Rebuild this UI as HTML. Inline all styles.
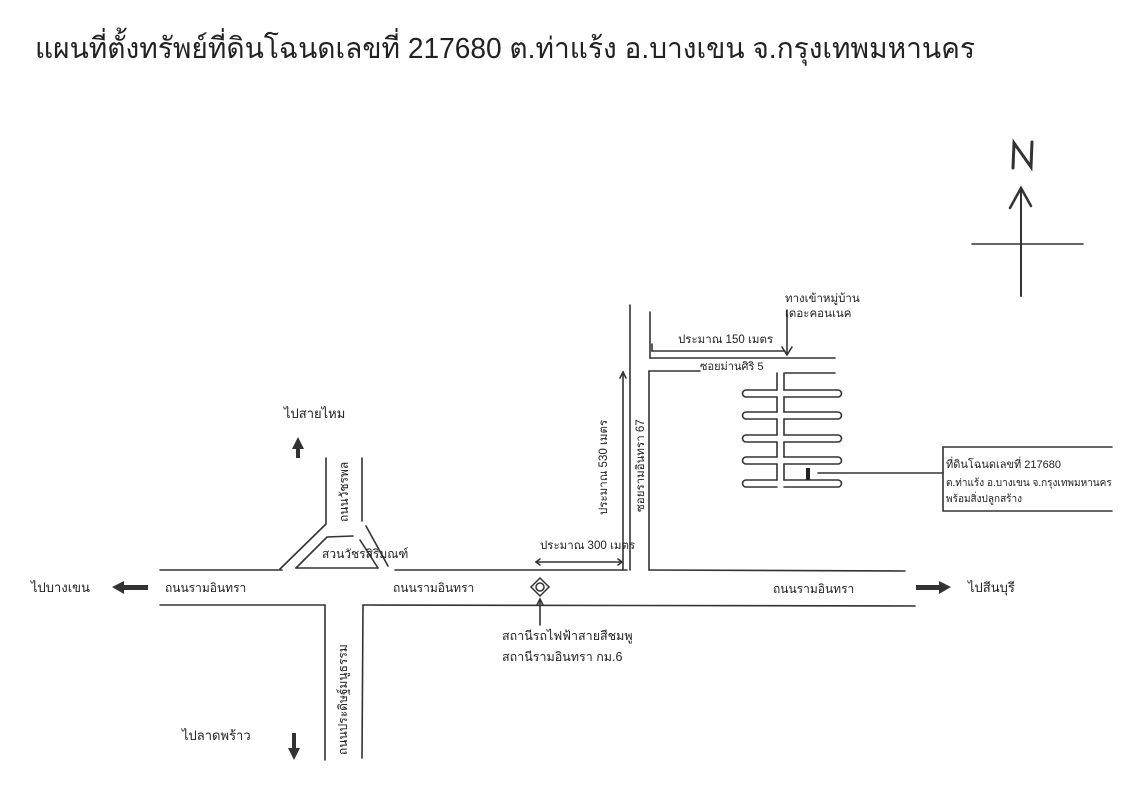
<!DOCTYPE html>
<html><head><meta charset="utf-8">
<style>
html,body{margin:0;padding:0;background:#fff;}
svg{display:block;}
text{font-family:"Liberation Sans","Noto Sans CJK SC","WenQuanYi Zen Hei",sans-serif;fill:#222;}
</style></head>
<body>
<svg width="1132" height="800" viewBox="0 0 1132 800" xmlns="http://www.w3.org/2000/svg">
<rect width="1132" height="800" fill="#fff"/>
<g stroke="#333" stroke-width="1.6" fill="none" stroke-linecap="round">
<line x1="160" y1="570" x2="282" y2="570"/>
<line x1="395" y1="570" x2="627" y2="570"/>
<line x1="649" y1="570" x2="905" y2="571"/>
<line x1="160" y1="605" x2="325" y2="605"/>
<line x1="363" y1="605" x2="915" y2="606"/>
<line x1="325" y1="605" x2="325" y2="760"/>
<line x1="363" y1="605" x2="362" y2="758"/>
<polyline points="326,458 326,524 280,569"/>
<line x1="362" y1="458" x2="362" y2="521"/>
<line x1="366" y1="526" x2="388" y2="566"/>
<polyline points="296,568 327,537 353,536"/>
<line x1="360" y1="540" x2="378" y2="568"/>
<line x1="296" y1="568" x2="378" y2="568"/>
<line x1="630" y1="305" x2="630" y2="570"/>
<line x1="649" y1="371" x2="649" y2="570"/>
<line x1="650" y1="312" x2="650" y2="358"/>
<line x1="650" y1="358" x2="835" y2="358"/>
<line x1="649" y1="371" x2="700" y2="371"/>
<line x1="785" y1="373" x2="835" y2="373"/>
<line x1="777" y1="373" x2="777" y2="390"/>
<line x1="777" y1="397" x2="777" y2="412"/>
<line x1="777" y1="419" x2="777" y2="435"/>
<line x1="777" y1="442" x2="777" y2="457"/>
<line x1="777" y1="464" x2="777" y2="480"/>
<line x1="784" y1="373" x2="784" y2="390"/>
<line x1="784" y1="397" x2="784" y2="412"/>
<line x1="784" y1="419" x2="784" y2="435"/>
<line x1="784" y1="442" x2="784" y2="457"/>
<line x1="784" y1="464" x2="784" y2="480"/>
<path d="M777 390 H746 a3.5 3.5 0 0 0 0 7 H777"/>
<path d="M777 412 H746 a3.5 3.5 0 0 0 0 7 H777"/>
<path d="M777 435 H746 a3.5 3.5 0 0 0 0 7 H777"/>
<path d="M777 457 H746 a3.5 3.5 0 0 0 0 7 H777"/>
<path d="M777 480 H746 a3.5 3.5 0 0 0 0 7 H777"/>
<path d="M784 390 H838 a3.5 3.5 0 0 1 0 7 H784"/>
<path d="M784 412 H838 a3.5 3.5 0 0 1 0 7 H784"/>
<path d="M784 435 H838 a3.5 3.5 0 0 1 0 7 H784"/>
<path d="M784 457 H838 a3.5 3.5 0 0 1 0 7 H784"/>
<path d="M784 480 H838 a3.5 3.5 0 0 1 0 7 H784"/>
<line x1="818" y1="473" x2="943" y2="473"/>
<polyline points="1112,447 943,447 943,511 1112,511"/>
<line x1="623" y1="372" x2="623" y2="570"/>
<polyline points="620,378 623,372 626,378"/>
<line x1="536" y1="562" x2="622" y2="562"/>
<polyline points="540,559 536,562 540,565"/>
<polyline points="618,559 622,562 618,565"/>
<line x1="652" y1="351" x2="785" y2="351"/>
<line x1="652" y1="351" x2="652" y2="344"/>
<line x1="787" y1="310" x2="787" y2="354"/>
<polyline points="782,347 787,355 792,347"/>
<line x1="540" y1="600" x2="540" y2="625"/>
<polyline points="537,605 540,599 543,605"/>
<line x1="1021" y1="188" x2="1021" y2="296" stroke-width="2"/>
<polyline points="1010,208 1021,188 1031,206" stroke-width="2.5"/>
<line x1="972" y1="244" x2="1083" y2="244"/>
<polyline points="1013,168 1014,143 1031,167 1032,142" stroke-width="3"/>
</g>
<g stroke="#333" stroke-width="1.5" fill="none">
<path d="M531 587 L540 578 L549 587 L540 596 Z"/>
<circle cx="540" cy="587" r="4"/>
</g>
<rect x="806" y="468" width="4" height="12" fill="#222"/>
<g fill="#333">
<polygon points="112,587 124,581 124,585 148,585 148,590 124,590 124,594"/>
<polygon points="951,587 939,581 939,585 916,585 916,590 939,590 939,594"/>
<polygon points="298,437 292,449 296,449 296,458 300,458 300,449 304,449"/>
<polygon points="294,760 288,748 292,748 292,733 296,733 296,748 300,748"/>
</g>
<text x="35" y="58" font-size="29" textLength="940" lengthAdjust="spacingAndGlyphs" font-weight="300">แผนที่ตั้งทรัพย์ที่ดินโฉนดเลขที่ 217680 ต.ท่าแร้ง อ.บางเขน จ.กรุงเทพมหานคร</text>
<g font-size="13">
<text x="31" y="592">ไปบางเขน</text>
<text x="165" y="592" font-size="12">ถนนรามอินทรา</text>
<text x="393" y="592" font-size="12">ถนนรามอินทรา</text>
<text x="773" y="593" font-size="12">ถนนรามอินทรา</text>
<text x="968" y="592">ไปสีนบุรี</text>
<text x="284" y="418">ไปสายไหม</text>
<text x="182" y="740">ไปลาดพร้าว</text>
<text x="322" y="558" font-size="12">สวนวัชรสิริมณฑ์</text>
<text x="502" y="640" font-size="12.5">สถานีรถไฟฟ้าสายสีชมพู</text>
<text x="502" y="661" font-size="12.5">สถานีรามอินทรา กม.6</text>
<text x="540" y="549" font-size="11.5">ประมาณ 300 เมตร</text>
<text x="678" y="343" font-size="11.5">ประมาณ 150 เมตร</text>
<text x="785" y="302" font-size="11.5">ทางเข้าหมู่บ้าน</text>
<text x="785" y="317" font-size="11.5">เดอะคอนเนค</text>
<text x="700" y="370" font-size="11">ซอยม่านศิริ 5</text>
<text x="946" y="468" font-size="11">ที่ดินโฉนดเลขที่ 217680</text>
<text x="946" y="486" font-size="10">ต.ท่าแร้ง อ.บางเขน จ.กรุงเทพมหานคร</text>
<text x="946" y="502" font-size="10">พร้อมสิ่งปลูกสร้าง</text>
<text transform="translate(607,515) rotate(-90)" font-size="11.5">ประมาณ 530 เมตร</text>
<text transform="translate(644,512) rotate(-90)" font-size="11.5">ซอยรามอินทรา 67</text>
<text transform="translate(348,522) rotate(-90)" font-size="12">ถนนวัชรพล</text>
<text transform="translate(347,755) rotate(-90)" font-size="12">ถนนประดิษฐ์มนูธรรม</text>
</g>
</svg>
</body></html>
